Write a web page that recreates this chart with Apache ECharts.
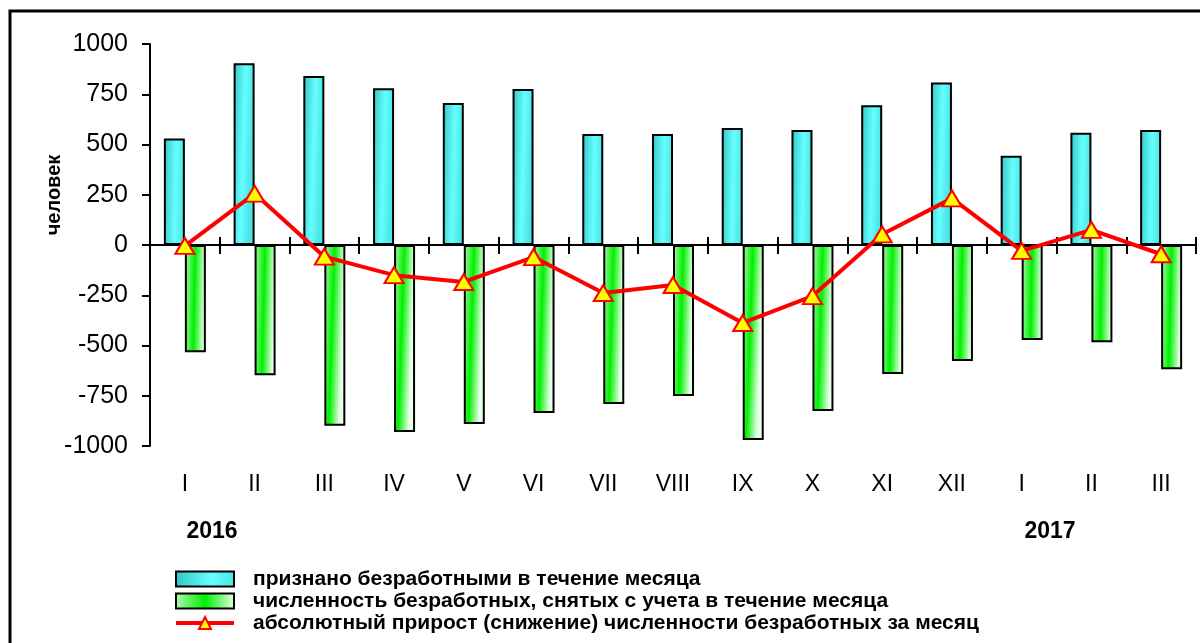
<!DOCTYPE html>
<html>
<head>
<meta charset="utf-8">
<script src="https://cdn.jsdelivr.net/npm/echarts@6/dist/echarts.min.js"></script>
<style>html,body{margin:0;padding:0;background:#fff;}#c{width:1200px;height:643px;}</style>
</head>
<body>
<div id="c"></div>
<script>
var months = ['I','II','III','IV','V','VI','VII','VIII','IX','X','XI','XII','I','II','III'];
var recognized = [530, 904, 841, 780, 706, 776, 552, 552, 582, 572, 695, 809, 444, 559, 572];
var removed = [-534, -648, -899, -930, -890, -836, -791, -751, -970, -826, -642, -577, -473, -484, -618];
var netChange = [-4, 256, -58, -150, -184, -60, -239, -199, -388, -254, 53, 232, -29, 75, -46];
var yearLabels = ['2016', '2017'];
var seriesNames = [
  'признано безработными в течение месяца',
  'численность безработных, снятых с учета в течение месяца',
  'абсолютный прирост (снижение) численности безработных за месяц'
];
var yAxisName = 'человек';

var FONT = "'Liberation Sans', Arial, sans-serif";
var chart = echarts.init(document.getElementById('c'), null, {renderer: 'canvas'});

var blueGrad = new echarts.graphic.LinearGradient(0, 0, 1, 0.004, [
  {offset: 0, color: '#33c4c4'}, {offset: 0.6, color: '#66ffff'}, {offset: 1, color: '#4ce4e4'}
]);
var greenGrad = new echarts.graphic.LinearGradient(0, 0, 1, 0.004, [
  {offset: 0, color: '#b4f7b4'}, {offset: 0.5, color: '#00f000'}, {offset: 1, color: '#e8ffe8'}
]);

chart.setOption({
  animation: false,
  backgroundColor: '#fff',
  textStyle: {fontFamily: FONT},
  grid: {left: 150, right: 4, top: 44, bottom: 197, containLabel: false, outerBoundsMode: 'none'},
  legend: {
    orient: 'vertical',
    left: 169,
    top: 563,
    itemGap: 0,
    itemWidth: 58,
    itemHeight: 15,
    textStyle: {fontFamily: FONT, fontSize: 21, fontWeight: 'bold', color: '#000', lineHeight: 22, padding: [0, 0, 0, 14]},
    data: [
      {name: seriesNames[0], icon: 'rect'},
      {name: seriesNames[1], icon: 'rect'},
      {name: seriesNames[2], lineStyle: {width: 4, color: '#ff0000'}}
    ]
  },
  xAxis: [{
    type: 'category',
    data: months,
    position: 'bottom',
    axisLine: {onZero: true, lineStyle: {color: '#000', width: 2}},
    axisTick: {show: true, inside: false, length: 9, lineStyle: {color: '#000', width: 2}},
    axisLabel: {margin: 27, fontSize: 23, color: '#000', fontFamily: FONT},
    splitLine: {show: false}
  }, {
    type: 'category',
    data: months,
    position: 'top',
    axisLine: {onZero: true, onZeroAxisIndex: 0, show: false},
    axisTick: {show: true, inside: false, length: 8, lineStyle: {color: '#000', width: 2}},
    axisLabel: {show: false},
    splitLine: {show: false}
  }],
  yAxis: {
    type: 'value',
    min: -1000, max: 1000, interval: 250,
    axisLine: {show: true, lineStyle: {color: '#000', width: 2}},
    axisTick: {show: true, length: 8, lineStyle: {color: '#000', width: 2}},
    axisLabel: {margin: 22, fontSize: 25, color: '#000', fontFamily: FONT, formatter: function (v) { return String(v); }},
    splitLine: {show: false}
  },
  graphic: [
    {type: 'rect', shape: {x: 10, y: 11, width: 1400, height: 800}, style: {fill: 'none', stroke: '#000', lineWidth: 3}, silent: true, z: 100},
    {type: 'text', x: 54, y: 195, rotation: Math.PI / 2, style: {text: yAxisName, font: "bold 20px " + FONT, fill: '#000', align: 'center', verticalAlign: 'middle'}},
    {type: 'text', x: 212, y: 532, style: {text: yearLabels[0], font: "bold 23px " + FONT, fill: '#000', align: 'center', verticalAlign: 'middle'}},
    {type: 'text', x: 1050, y: 532, style: {text: yearLabels[1], font: "bold 23px " + FONT, fill: '#000', align: 'center', verticalAlign: 'middle'}}
  ],
  series: [{
    name: seriesNames[0],
    type: 'bar',
    data: recognized,
    barWidth: 21,
    barGap: '0%',
    itemStyle: {color: blueGrad, borderColor: '#000', borderWidth: 2}
  }, {
    name: seriesNames[1],
    type: 'bar',
    data: removed,
    barWidth: 21,
    barGap: '0%',
    itemStyle: {color: greenGrad, borderColor: '#000', borderWidth: 2}
  }, {
    name: seriesNames[2],
    type: 'line',
    data: netChange,
    z: 10,
    symbol: 'triangle',
    symbolSize: [19, 16],
    lineStyle: {color: '#ff0000', width: 4},
    itemStyle: {color: '#ffff00', borderColor: '#ff0000', borderWidth: 2},
    color: '#ff0000'
  }]
});
</script>
</body>
</html>
